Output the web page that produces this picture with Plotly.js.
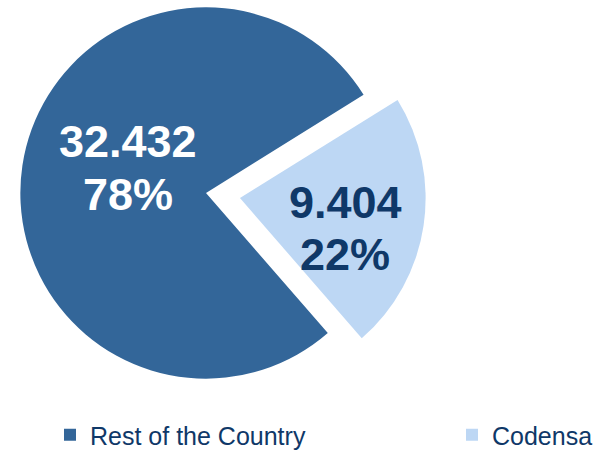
<!DOCTYPE html>
<html>
<head>
<meta charset="utf-8">
<script src="https://cdn.plot.ly/plotly-3.0.1.min.js"></script>
<style>
  html, body { margin: 0; padding: 0; overflow: hidden; background: #fff; width: 598px; height: 453px; }
  #chart { position: absolute; left: -14px; top: -27px; width: 1200px; height: 490px; }
</style>
</head>
<body>
<div id="chart"></div>
<script>
const categories = ["Rest of the Country", "Codensa"];
const values = [32432, 9404];
const sliceColors = ["#336699", "#BDD7F4"];
const textColors = ["#FFFFFF", "#0F3868"];
const pulls = [0, 0.185];

const W = 1200, H = 490;

// label anchor positions (pixels from the top-left of the plot div)
const labelPxX = [141.6, 359.4];
const valuePxY = [168, 229.7];
const pctPxY = [221, 281];

const total = values.reduce((a, b) => a + b, 0);
const fmtThousands = v => String(v).replace(/\B(?=(\d{3})+(?!\d))/g, ".");

const trace = {
  type: "pie",
  labels: categories,
  values: values,
  sort: false,
  direction: "clockwise",
  rotation: 139,
  pull: pulls,
  marker: { colors: sliceColors, line: { width: 0 } },
  textinfo: "none",
  hoverinfo: "none",
  domain: { x: [0, 440 / W], y: [1 - 440 / H, 1] }
};

const labelFont = (c) => ({ family: "Liberation Sans, Arial, sans-serif", size: 45, color: c });
const annotations = [];
values.forEach((v, i) => {
  annotations.push({
    xref: "paper", yref: "paper", x: labelPxX[i] / W, y: 1 - valuePxY[i] / H,
    xanchor: "center", yanchor: "middle", showarrow: false,
    text: "<b>" + fmtThousands(v) + "</b>", font: labelFont(textColors[i])
  });
  annotations.push({
    xref: "paper", yref: "paper", x: labelPxX[i] / W, y: 1 - pctPxY[i] / H,
    xanchor: "center", yanchor: "middle", showarrow: false,
    text: "<b>" + Math.round(100 * v / total) + "%</b>", font: labelFont(textColors[i])
  });
});

const layout = {
  width: W,
  height: H,
  margin: { l: 0, r: 0, t: 0, b: 0 },
  paper_bgcolor: "#ffffff",
  showlegend: true,
  annotations: annotations,
  legend: {
    orientation: "h",
    x: 64 / W,
    xanchor: "left",
    y: 5 / H,
    yanchor: "bottom",
    entrywidth: 357,
    entrywidthmode: "pixels",
    font: { family: "Liberation Sans, Arial, sans-serif", size: 25, color: "#0F3868" },
    bgcolor: "rgba(0,0,0,0)"
  }
};

Plotly.newPlot("chart", [trace], layout, { staticPlot: true, displayModeBar: false });
</script>
</body>
</html>
